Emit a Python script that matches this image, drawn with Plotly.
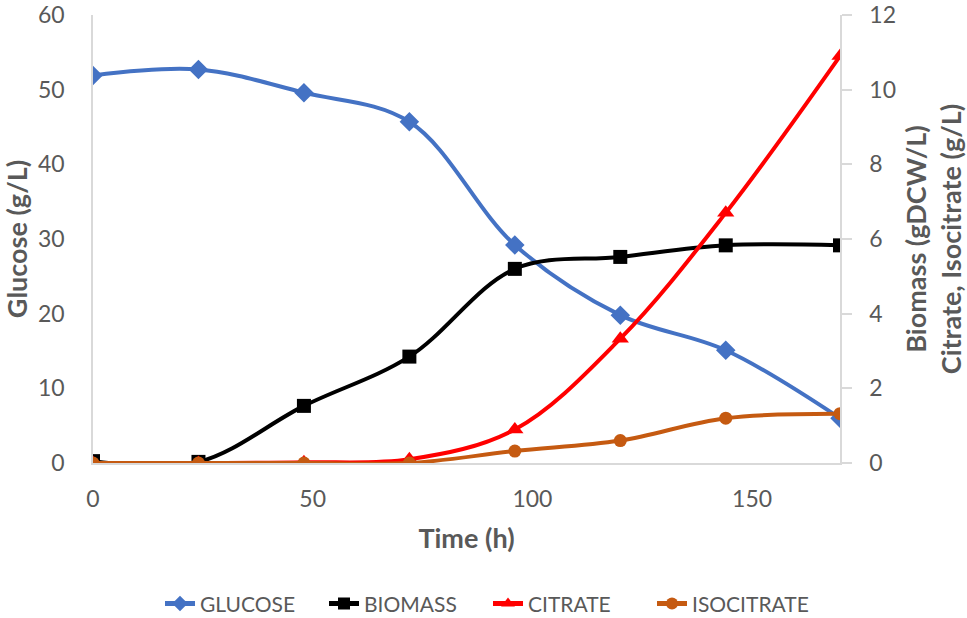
import plotly.graph_objects as go

time_h = [0, 24, 48, 72, 96, 120, 144, 170]
glucose = [51.9, 52.7, 49.6, 45.7, 29.2, 19.8, 15.1, 6.0]
biomass = [0.05, 0.03, 1.53, 2.85, 5.2, 5.52, 5.83, 5.83]
citrate = [0.0, 0.0, 0.02, 0.1, 0.9, 3.33, 6.7, 10.9]
isocitrate = [0.0, 0.0, 0.0, 0.0, 0.32, 0.6, 1.2, 1.32]

GRAY = "#595959"
AX = "#D9D9D9"
FONT = "Lato"
TICK = 23
TITLE = 27

fig = go.Figure()
fig.add_trace(go.Scatter(x=time_h, y=glucose, name="GLUCOSE", mode="lines+markers",
                         line=dict(color="#4472C4", width=4, shape="spline", smoothing=1),
                         marker=dict(symbol="diamond", size=15, color="#4472C4"), yaxis="y"))
fig.add_trace(go.Scatter(x=time_h, y=biomass, name="BIOMASS", mode="lines+markers",
                         line=dict(color="#000000", width=4, shape="spline", smoothing=1),
                         marker=dict(symbol="square", size=14, color="#000000"), yaxis="y2"))
fig.add_trace(go.Scatter(x=time_h, y=citrate, name="CITRATE", mode="lines+markers",
                         line=dict(color="#FF0000", width=4, shape="spline", smoothing=1),
                         marker=dict(symbol="triangle-up", size=15, color="#FF0000"), yaxis="y2"))
fig.add_trace(go.Scatter(x=time_h, y=isocitrate, name="ISOCITRATE", mode="lines+markers",
                         line=dict(color="#C55A11", width=4, shape="spline", smoothing=1),
                         marker=dict(symbol="circle", size=13, color="#C55A11"), yaxis="y2"))

fig.update_layout(
    width=967, height=618,
    margin=dict(l=93, r=127, t=15, b=155),
    paper_bgcolor="white", plot_bgcolor="white",
    font=dict(family=FONT, color=GRAY, size=TICK),
    showlegend=True,
    legend=dict(orientation="h", x=0.0897, xanchor="left", yref="container", y=0.023,
                yanchor="middle", font=dict(size=21, color=GRAY), traceorder="normal",
                itemsizing="constant", entrywidth=119, entrywidthmode="pixels"),
    xaxis=dict(range=[0, 170], tickvals=[0, 50, 100, 150], showgrid=False, zeroline=False,
               automargin=False, ticklabeloverflow="allow",
               showline=True, linecolor=AX, linewidth=1.5, ticks="", ticklabelstandoff=15,
               tickfont=dict(size=TICK, color=GRAY),
               title=dict(text="<b>Time (h)</b>", font=dict(size=TITLE, color=GRAY), standoff=18)),
    yaxis=dict(range=[0, 60], dtick=10, showgrid=False, zeroline=False, automargin=False,
               ticklabeloverflow="allow",
               showline=True, linecolor=AX, linewidth=1.5, ticks="", ticklabelstandoff=22,
               tickfont=dict(size=TICK, color=GRAY),
               title=dict(text="<b>Glucose (g/L)</b>", font=dict(size=TITLE, color=GRAY), standoff=12)),
    yaxis2=dict(range=[0, 12], dtick=2, overlaying="y", side="right", showgrid=False, zeroline=False,
                automargin=False, ticklabeloverflow="allow",
                showline=True, linecolor=AX, linewidth=1.5, ticks="outside", ticklen=10,
                tickcolor=AX, tickwidth=1.5, ticklabelstandoff=13,
                tickfont=dict(size=TICK, color=GRAY),
                title=dict(text="<b>Biomass (gDCW/L)<br>Citrate, Isocitrate (g/L)</b>",
                           font=dict(size=TITLE, color=GRAY), standoff=13)),
)

fig.write_html("out.html", config={"displayModeBar": False},
               post_script="document.body.style.margin='0';")
